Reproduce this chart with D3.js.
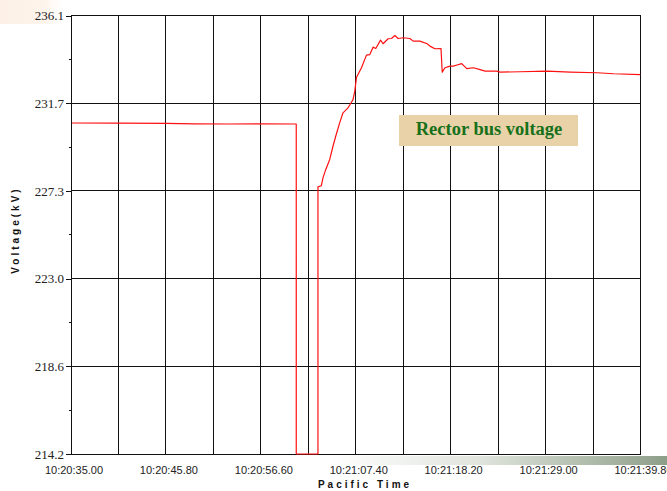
<!DOCTYPE html>
<html>
<head>
<meta charset="utf-8">
<script src="https://cdn.jsdelivr.net/npm/d3@7/dist/d3.min.js"></script>
<style>
  html, body { margin: 0; padding: 0; background: #fff; }
  svg { display: block; }
</style>
</head>
<body>
<svg id="chart" width="667" height="491"></svg>
<script>
// Seconds after 10:20:35.00 and the bus voltage (kV) recorded at each instant
const times = [
  0, 5.4, 10.8, 14.0, 18.0, 21.6, 25.63,
  25.63, 28.10,
  28.10, 28.49, 28.67, 28.98, 29.43, 29.81, 30.12, 30.57, 30.95, 31.52,
  31.91, 32.09, 32.29, 32.48, 33.05, 33.62, 34.00, 34.37, 34.68, 35.22,
  35.51, 36.08, 36.47, 36.85, 37.22, 37.80, 38.56, 38.94, 39.70, 40.53,
  40.84, 41.41, 42.10, 42.24, 42.55, 43.12, 43.50, 43.92, 44.46, 45.03,
  45.78, 46.55, 47.12, 48.45, 48.83, 51.11, 54.15, 56.81, 59.86, 61.75,
  64.80
];
const voltage = [
  230.73, 230.72, 230.71, 230.69, 230.68, 230.69, 230.68,
  214.2, 214.2,
  227.54, 227.60, 227.99, 228.40, 228.90, 229.57, 230.07, 230.74, 231.24, 231.49,
  231.77, 231.90, 232.32, 233.00, 233.49, 234.12, 234.15, 234.52, 234.45, 234.87,
  234.69, 234.94, 234.95, 235.10, 234.95, 234.99, 234.95, 234.82, 234.82, 234.69,
  234.57, 234.44, 234.45, 233.27, 233.49, 233.57, 233.57, 233.63, 233.70, 233.45,
  233.49, 233.40, 233.32, 233.32, 233.27, 233.29, 233.32, 233.27, 233.24, 233.19,
  233.15
];

// Axis ticks
const xTicks = [0, 10.8, 21.6, 32.4, 43.2, 54.0, 64.8];
const xTickLabels = ["10:20:35.00", "10:20:45.80", "10:20:56.60", "10:21:07.40",
                     "10:21:18.20", "10:21:29.00", "10:21:39.80"];
const xGrid = [0, 5.4, 10.8, 16.2, 21.6, 27.0, 32.4, 37.8, 43.2, 48.6, 54.0, 59.4, 64.8];
const yTicks = [214.2, 218.58, 222.96, 227.34, 231.72, 236.1];
const yMinorTicks = [216.39, 220.77, 225.15, 229.53, 233.91];

const seriesName = "Rector bus voltage";
const xTitle = "Pacific Time";
const yTitle = "Voltage(kV)";

const svg = d3.select("#chart");
const defs = svg.append("defs");

// Soft corner tint and footer band
const peach = defs.append("linearGradient").attr("id", "peach")
  .attr("x1", "0").attr("x2", "1").attr("y1", "0").attr("y2", "0");
peach.append("stop").attr("offset", "0%").attr("stop-color", "#fdf1e6");
peach.append("stop").attr("offset", "70%").attr("stop-color", "#fdf4eb");
peach.append("stop").attr("offset", "100%").attr("stop-color", "#fff").attr("stop-opacity", 0);
svg.append("rect").attr("x", 0).attr("y", 0).attr("width", 66).attr("height", 24)
  .attr("fill", "url(#peach)");

const band = defs.append("linearGradient").attr("id", "band")
  .attr("x1", "0").attr("x2", "1").attr("y1", "0").attr("y2", "0");
band.append("stop").attr("offset", "0%").attr("stop-color", "#ffffff");
band.append("stop").attr("offset", "45%").attr("stop-color", "#dfe4dc");
band.append("stop").attr("offset", "100%").attr("stop-color", "#8d9e88");
svg.append("rect").attr("x", 330).attr("y", 456).attr("width", 337).attr("height", 9)
  .attr("fill", "url(#band)");

const x = d3.scaleLinear().domain([0, 64.8]).range([71, 640.5]);
const y = d3.scaleLinear().domain([214.2, 236.1]).range([454, 15.5]);

// Grid
const grid = svg.append("g").attr("stroke", "#111").attr("stroke-width", 1)
  .attr("shape-rendering", "crispEdges");
grid.selectAll("line.v").data(xGrid).join("line").attr("class", "v")
  .attr("x1", d => x(d)).attr("x2", d => x(d))
  .attr("y1", y(236.1)).attr("y2", y(214.2));
grid.selectAll("line.h").data(yTicks).join("line").attr("class", "h")
  .attr("x1", x(0)).attr("x2", x(64.8))
  .attr("y1", d => y(d)).attr("y2", d => y(d));

// Clip the trace to the plot area
defs.append("clipPath").attr("id", "plot")
  .append("rect").attr("x", x(0)).attr("y", y(236.1))
  .attr("width", x(64.8) - x(0)).attr("height", y(214.2) - y(236.1) + 1);

const line = d3.line().x((d, i) => x(times[i])).y(d => y(d));
svg.append("path").datum(voltage)
  .attr("clip-path", "url(#plot)")
  .attr("fill", "none").attr("stroke", "#ff1010").attr("stroke-width", 1.2)
  .attr("stroke-linejoin", "round")
  .attr("d", line);

// Y axis
const yAxis = d3.axisLeft(y).tickValues(yTicks).tickSize(5).tickPadding(2)
  .tickFormat(d => d.toFixed(1));
const gy = svg.append("g").attr("transform", `translate(${x(0)},0)`).call(yAxis);
gy.select(".domain").attr("stroke", "#111").attr("shape-rendering", "crispEdges");
gy.selectAll(".tick line").attr("stroke", "#111").attr("shape-rendering", "crispEdges");
gy.selectAll(".tick text").attr("font-family", "'Liberation Serif', 'Times New Roman', serif")
  .attr("font-size", 13).attr("fill", "#222");
gy.selectAll("line.minor").data(yMinorTicks).join("line").attr("class", "minor")
  .attr("x1", -2).attr("x2", 0)
  .attr("y1", d => y(d)).attr("y2", d => y(d))
  .attr("stroke", "#111").attr("shape-rendering", "crispEdges");

// X tick labels
svg.append("g").selectAll("text").data(xTicks).join("text")
  .attr("x", d => x(d) + 3).attr("y", 474)
  .attr("text-anchor", "middle")
  .attr("font-family", "'Liberation Sans', Arial, sans-serif")
  .attr("font-size", 11).attr("fill", "#222")
  .text((d, i) => xTickLabels[i]);

// Axis titles
svg.append("text").attr("x", 365).attr("y", 488).attr("text-anchor", "middle")
  .attr("font-family", "'Liberation Sans', Arial, sans-serif")
  .attr("font-size", 10).attr("font-weight", "bold").attr("letter-spacing", 3)
  .attr("fill", "#111").text(xTitle);
svg.append("text").attr("transform", "translate(19,230) rotate(-90)")
  .attr("text-anchor", "middle")
  .attr("font-family", "'Liberation Sans', Arial, sans-serif")
  .attr("font-size", 10).attr("font-weight", "bold").attr("letter-spacing", 3)
  .attr("fill", "#111").text(yTitle);

// Series label
svg.append("rect").attr("x", 399).attr("y", 115).attr("width", 179).attr("height", 31)
  .attr("fill", "#e9d2a8");
svg.append("text").attr("x", 489).attr("y", 134.5).attr("text-anchor", "middle")
  .attr("font-family", "'Liberation Serif', 'Times New Roman', serif")
  .attr("font-size", 18.5).attr("font-weight", "bold").attr("fill", "#17701a")
  .text(seriesName);
</script>
</body>
</html>
